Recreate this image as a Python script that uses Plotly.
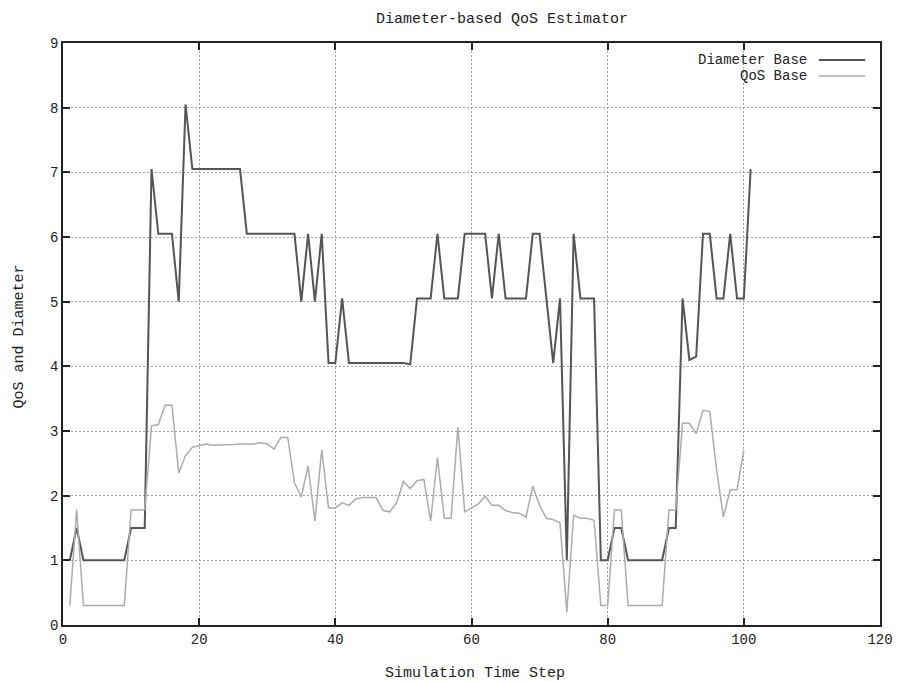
import plotly.graph_objects as go

time_step = list(range(1, 102))

diameter_base = [
    1.0, 1.5, 1.0, 1.0, 1.0, 1.0, 1.0, 1.0, 1.0, 1.5,      # 1-10
    1.5, 1.5, 7.05, 6.05, 6.05, 6.05, 5.0, 8.05, 7.05, 7.05,  # 11-20
    7.05, 7.05, 7.05, 7.05, 7.05, 7.05, 6.05, 6.05, 6.05, 6.05,  # 21-30
    6.05, 6.05, 6.05, 6.05, 5.0, 6.05, 5.0, 6.05, 4.05, 4.05,  # 31-40
    5.05, 4.05, 4.05, 4.05, 4.05, 4.05, 4.05, 4.05, 4.05, 4.05,  # 41-50
    4.03, 5.05, 5.05, 5.05, 6.05, 5.05, 5.05, 5.05, 6.05, 6.05,  # 51-60
    6.05, 6.05, 5.05, 6.05, 5.05, 5.05, 5.05, 5.05, 6.05, 6.05,  # 61-70
    5.05, 4.05, 5.05, 1.0, 6.05, 5.05, 5.05, 5.05, 1.0, 1.0,  # 71-80
    1.5, 1.5, 1.0, 1.0, 1.0, 1.0, 1.0, 1.0, 1.5, 1.5,      # 81-90
    5.05, 4.1, 4.15, 6.05, 6.05, 5.05, 5.05, 6.05, 5.05, 5.05,  # 91-100
    7.05,                                                  # 101
]

qos_base = [
    0.3, 1.78, 0.3, 0.3, 0.3, 0.3, 0.3, 0.3, 0.3, 1.78,    # 1-10
    1.78, 1.78, 3.08, 3.1, 3.4, 3.4, 2.35, 2.62, 2.75, 2.78,  # 11-20
    2.8, 2.78, 2.78, 2.79, 2.79, 2.8, 2.8, 2.8, 2.82, 2.8,  # 21-30
    2.72, 2.9, 2.9, 2.2, 1.98, 2.46, 1.61, 2.71, 1.81, 1.81,  # 31-40
    1.89, 1.85, 1.95, 1.97, 1.97, 1.97, 1.77, 1.75, 1.89, 2.22,  # 41-50
    2.11, 2.23, 2.25, 1.61, 2.59, 1.65, 1.65, 3.06, 1.75, 1.81,  # 51-60
    1.87, 1.99, 1.85, 1.85, 1.77, 1.74, 1.73, 1.67, 2.15, 1.85,  # 61-70
    1.65, 1.63, 1.58, 0.2, 1.7, 1.65, 1.65, 1.62, 0.3, 0.3,  # 71-80
    1.78, 1.78, 0.3, 0.3, 0.3, 0.3, 0.3, 0.3, 1.78, 1.78,  # 81-90
    3.12, 3.12, 2.96, 3.32, 3.3, 2.4, 1.67, 2.09, 2.09, 2.7,  # 91-100
]

series_names = ["Diameter Base", "QoS Base"]
x_ticks = [0, 20, 40, 60, 80, 100, 120]
y_ticks = [0, 1, 2, 3, 4, 5, 6, 7, 8, 9]

FONT = "Liberation Mono"
DARK = "#555555"
LIGHT = "#acacac"
TEXT = "#222222"

fig = go.Figure()
fig.add_trace(go.Scatter(x=time_step[:len(diameter_base)], y=diameter_base, mode="lines",
                         name=series_names[0], line=dict(color=DARK, width=2),
                         showlegend=False))
fig.add_trace(go.Scatter(x=time_step[:len(qos_base)], y=qos_base, mode="lines",
                         name=series_names[1], line=dict(color=LIGHT, width=1.5),
                         showlegend=False))

# plot area in pixels
L, R, T, B = 63, 891, 43, 625
W, H = R - L, B - T

def px(p):
    return (p - L) / W

def py(q):
    return (B - q) / H

# legend (gnuplot style: text right-aligned, sample line to the right)
legend_rows = [(60, series_names[0], DARK, 2), (76, series_names[1], LIGHT, 1.5)]
annotations = []
shapes = []
for yq, label, col, w in legend_rows:
    annotations.append(dict(x=px(819), y=py(yq), xref="paper", yref="paper",
                            text=label, showarrow=False, xanchor="right", yanchor="middle",
                            font=dict(family=FONT, size=14, color=TEXT)))
    shapes.append(dict(type="line", xref="paper", yref="paper",
                       x0=px(829), x1=px(876), y0=py(yq), y1=py(yq),
                       line=dict(color=col, width=w)))

# axis titles
annotations.append(dict(x=px(481), y=py(673), xref="paper", yref="paper",
                        text="Simulation Time Step", showarrow=False,
                        xanchor="center", yanchor="middle",
                        font=dict(family=FONT, size=15, color=TEXT)))
annotations.append(dict(x=px(18), y=py(337), xref="paper", yref="paper",
                        text="QoS and Diameter", showarrow=False, textangle=-90,
                        xanchor="center", yanchor="middle",
                        font=dict(family=FONT, size=15, color=TEXT)))

fig.update_layout(
    width=905, height=681,
    margin=dict(l=L, r=905 - R, t=T, b=681 - B),
    paper_bgcolor="white", plot_bgcolor="white",
    title=dict(text="Diameter-based QoS Estimator", x=502 / 905, xref="container",
               xanchor="center", y=1 - 18 / 681, yref="container", yanchor="middle",
               font=dict(family=FONT, size=15, color=TEXT)),
    font=dict(family=FONT, size=14, color=TEXT),
    annotations=annotations,
    shapes=shapes,
)

axis_common = dict(
    showline=True, linecolor=TEXT, linewidth=1.5, mirror="ticks",
    ticks="inside", ticklen=7, tickwidth=1.5, tickcolor=TEXT,
    showgrid=True, gridcolor="#a0a0a0", griddash="2px,2px", gridwidth=1,
    zeroline=False, tickfont=dict(family=FONT, size=14, color=TEXT),
)
fig.update_xaxes(range=[0, 120], tickvals=x_ticks, ticktext=[str(v) for v in x_ticks], **axis_common)
fig.update_yaxes(range=[0, 9], tickvals=y_ticks, ticktext=[str(v) for v in y_ticks], **axis_common)

fig.write_html("out.html")
